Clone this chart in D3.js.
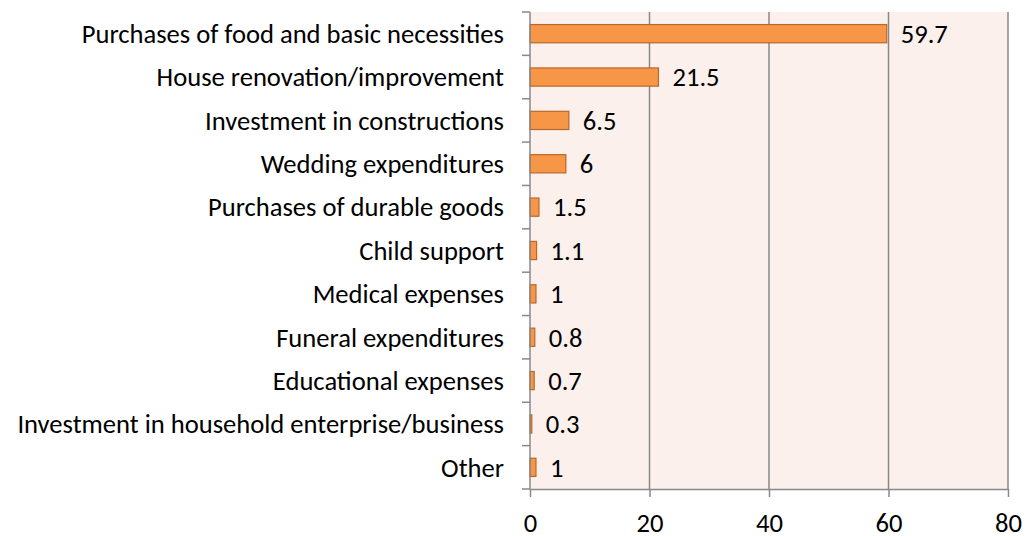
<!DOCTYPE html>
<html>
<head>
<meta charset="utf-8">
<script src="https://cdn.jsdelivr.net/npm/d3@7"></script>
<style>
  html, body { margin: 0; padding: 0; background: #ffffff; }
  svg { display: block; }
  text { font-family: Carlito, Calibri, "Open Sans", sans-serif; fill: #000; }
</style>
</head>
<body>
<svg id="chart" width="1035" height="536"></svg>
<script>
// Uses of remittances, share of households (%)
const categories = [
  "Purchases of food and basic necessities",
  "House renovation/improvement",
  "Investment in constructions",
  "Wedding expenditures",
  "Purchases of durable goods",
  "Child support",
  "Medical expenses",
  "Funeral expenditures",
  "Educational expenses",
  "Investment in household enterprise/business",
  "Other"
];
const values = [59.7, 21.5, 6.5, 6, 1.5, 1.1, 1, 0.8, 0.7, 0.3, 1];
const valueLabels = ["59.7", "21.5", "6.5", "6", "1.5", "1.1", "1", "0.8", "0.7", "0.3", "1"];
const xTicks = [0, 20, 40, 60, 80];

const svg = d3.select("#chart");
const plotLeft = 530, plotRight = 1008, plotTop = 12, plotBottom = 489;
const labelRight = 504;

// size the text so the longest category label spans to the left margin
const probe = svg.append("text").attr("font-size", 20)
  .text(categories[9]);
const probeLen = probe.node().getComputedTextLength();
probe.remove();
const fontSize = Math.max(18, Math.min(28, 20 * (labelRight - 17) / probeLen));

const x = d3.scaleLinear().domain([0, 80]).range([plotLeft, plotRight]);
const y = d3.scaleBand().domain(categories).range([plotTop, plotBottom]).paddingInner(0.58).paddingOuter(0.29);

// plot background
svg.append("rect")
  .attr("x", plotLeft).attr("y", plotTop)
  .attr("width", plotRight - plotLeft).attr("height", plotBottom - plotTop)
  .attr("fill", "#fbf0eb");

// vertical gridlines
svg.append("g")
  .selectAll("line")
  .data(xTicks.slice(1))
  .join("line")
  .attr("x1", d => x(d)).attr("x2", d => x(d))
  .attr("y1", plotTop).attr("y2", plotBottom)
  .attr("stroke", "#898989").attr("stroke-width", 1.5);

// bars
svg.append("g")
  .selectAll("rect")
  .data(values)
  .join("rect")
  .attr("x", x(0))
  .attr("y", (d, i) => y(categories[i]))
  .attr("width", d => x(d) - x(0))
  .attr("height", y.bandwidth())
  .attr("fill", "#f79646")
  .attr("stroke", "#b8682c")
  .attr("stroke-width", 1.2);

// value labels
svg.append("g")
  .selectAll("text")
  .data(values)
  .join("text")
  .attr("x", d => x(d) + 14)
  .attr("y", (d, i) => y(categories[i]) + y.bandwidth() / 2)
  .attr("dy", "0.35em")
  .attr("font-size", fontSize)
  .text((d, i) => valueLabels[i]);

// left axis: line with ticks at category boundaries
const boundaries = d3.range(categories.length + 1).map(i => plotTop + i * (plotBottom - plotTop) / categories.length);
const yAxis = svg.append("g");
yAxis.append("line")
  .attr("x1", plotLeft).attr("x2", plotLeft)
  .attr("y1", plotTop).attr("y2", plotBottom)
  .attr("stroke", "#898989").attr("stroke-width", 1.5);
yAxis.selectAll("line.tick")
  .data(boundaries)
  .join("line")
  .attr("class", "tick")
  .attr("x1", plotLeft - 8).attr("x2", plotLeft)
  .attr("y1", d => d).attr("y2", d => d)
  .attr("stroke", "#898989").attr("stroke-width", 1.5);
yAxis.selectAll("text")
  .data(categories)
  .join("text")
  .attr("x", labelRight)
  .attr("y", d => y(d) + y.bandwidth() / 2)
  .attr("dy", "0.35em")
  .attr("text-anchor", "end")
  .attr("font-size", fontSize)
  .text(d => d);

// bottom axis
const xAxis = d3.axisBottom(x).tickValues(xTicks).tickSize(8).tickSizeOuter(0).tickFormat(d3.format("d"));
const gx = svg.append("g").attr("transform", `translate(0,${plotBottom})`).call(xAxis);
gx.select(".domain").attr("stroke", "#898989").attr("stroke-width", 1.5);
gx.selectAll(".tick line").attr("stroke", "#898989").attr("stroke-width", 1.5);
gx.selectAll(".tick text")
  .attr("y", 43)
  .attr("dy", 0)
  .attr("font-size", fontSize)
  .attr("font-family", "Carlito, Calibri, 'Open Sans', sans-serif")
  .attr("fill", "#000");
</script>
</body>
</html>
